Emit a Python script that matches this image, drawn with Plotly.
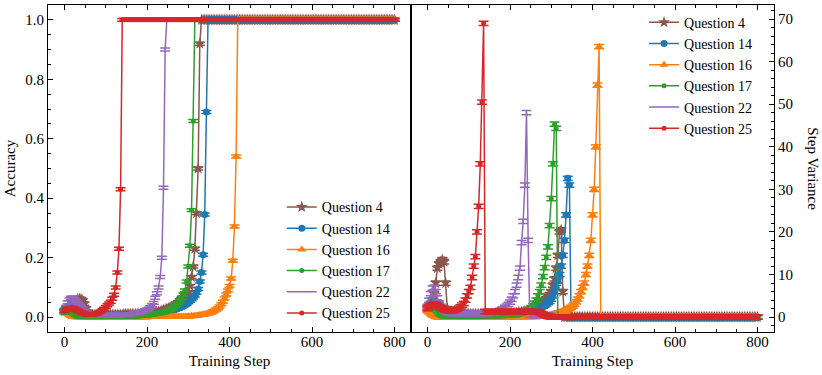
import plotly.graph_objects as go
from plotly.subplots import make_subplots

# Training steps (evaluated every 4 steps)
steps = list(range(0, 801, 4))

questions = ['Question 4', 'Question 14', 'Question 16', 'Question 17', 'Question 22', 'Question 25']
colors = ['#8c564b', '#1f77b4', '#ff7f0e', '#2ca02c', '#9467bd', '#d62728']
symbols = ['star', 'circle', 'triangle-up', 'circle', None, 'circle']
msizes = [9, 7, 8, 5, 0, 5]

# Accuracy per question (left panel)
acc_q4 = ([0.020, 0.022, 0.026, 0.030, 0.035, 0.040, 0.048, 0.056, 0.060, 0.062, 0.061, 0.057, 0.045, 0.030, 0.018, 0.010]
          + [0.007] * 10 + [0.008] * 10 + [0.010] * 10 + [0.012] * 5
          + [0.013, 0.014, 0.015, 0.016, 0.017, 0.018, 0.019, 0.020, 0.022, 0.024, 0.026, 0.028,
             0.030, 0.032, 0.035, 0.038, 0.042, 0.046, 0.050, 0.055, 0.060, 0.066, 0.073, 0.080]
          + [0.085, 0.105, 0.135, 0.17, 0.23, 0.35, 0.50, 0.92]
          + [1.0] * 118)
acc_q14 = ([0.025, 0.030, 0.034, 0.038, 0.040, 0.042, 0.042, 0.040, 0.036, 0.028, 0.018, 0.011, 0.007, 0.005, 0.004, 0.004]
           + [0.004] * 10 + [0.005] * 10 + [0.006] * 10 + [0.007] * 5
           + [0.008, 0.008, 0.009, 0.009, 0.010, 0.011, 0.012, 0.013, 0.014, 0.015, 0.016, 0.018,
              0.019, 0.021, 0.022, 0.024, 0.026, 0.028, 0.030, 0.032, 0.035, 0.038, 0.041, 0.045]
           + [0.050, 0.055, 0.060, 0.066, 0.073, 0.082, 0.095, 0.12, 0.15, 0.21, 0.345, 0.69]
           + [1.0] * 114)
acc_q16 = ([0.020, 0.016, 0.012, 0.008, 0.005, 0.002, 0.001, 0.0, 0.0, 0.0, 0.0, 0.0, 0.0, 0.0, 0.0, 0.0]
           + [0.0] * 35
           + [0.001] * 12 + [0.002] * 12
           + [0.003, 0.003, 0.004, 0.004, 0.005, 0.005, 0.006, 0.007, 0.008, 0.009,
              0.010, 0.011, 0.012, 0.014, 0.016, 0.019, 0.022, 0.026, 0.030, 0.036,
              0.043, 0.052, 0.063, 0.076, 0.090, 0.105, 0.13, 0.19, 0.305, 0.54]
           + [1.0] * 96)
acc_q17 = ([0.015, 0.016, 0.018, 0.020, 0.020, 0.017, 0.012, 0.007, 0.004, 0.002, 0.001, 0.001, 0.001, 0.001, 0.001, 0.001]
           + [0.001] * 10 + [0.002] * 10 + [0.004] * 10 + [0.006] * 5
           + [0.007, 0.008, 0.009, 0.010, 0.011, 0.012, 0.013, 0.014, 0.015, 0.016, 0.018, 0.020,
              0.022, 0.025, 0.028, 0.032, 0.037, 0.042, 0.048, 0.055, 0.065, 0.076, 0.090, 0.12]
           + [0.17, 0.24, 0.36, 0.66]
           + [1.0] * 122)
acc_q22 = ([0.020, 0.035, 0.050, 0.060, 0.065, 0.066, 0.060, 0.054, 0.048, 0.042, 0.036, 0.030, 0.022, 0.016, 0.011, 0.008]
           + [0.007] * 20
           + [0.008, 0.008, 0.009, 0.009, 0.010, 0.011, 0.012, 0.013, 0.014, 0.015, 0.016, 0.018, 0.020, 0.022, 0.025]
           + [0.028, 0.033, 0.040, 0.048, 0.065, 0.080, 0.10, 0.135, 0.20, 0.435, 0.90]
           + [1.0] * 139)
acc_q25 = ([0.020, 0.025, 0.029, 0.031, 0.031, 0.030, 0.028, 0.025, 0.022, 0.019, 0.016, 0.014, 0.012, 0.010, 0.009, 0.009]
           + [0.009, 0.009, 0.010, 0.011, 0.013, 0.016, 0.019, 0.023, 0.028, 0.034,
              0.040, 0.046, 0.052, 0.062, 0.075, 0.10, 0.15, 0.23, 0.43]
           + [1.0] * 166)

# Step variance per question (right panel)
var_q4 = ([2.0, 2.4, 3.0, 4.0, 5.5, 8.0, 11.5, 12.5, 13.0, 13.5, 13.0, 8.0, 2.0, 1.5, 1.2, 1.0]
          + [0.8] * 10 + [0.7] * 20 + [0.8] * 5
          + [0.9, 0.9, 1.0, 1.0, 1.1, 1.1, 1.2, 1.3, 1.4, 1.5, 1.6, 1.7,
             1.8, 2.0, 2.2, 2.4, 2.6, 2.9, 3.2, 3.5, 3.9, 4.3, 4.8, 5.3]
          + [6.0, 7.5, 9.0, 11.5, 14.5, 20.0, 20.5, 6.0]
          + [0.0] * 118)
var_q14 = ([2.3, 2.8, 3.2, 3.5, 3.6, 3.5, 3.2, 2.8, 2.2, 1.5, 1.0, 0.7, 0.5, 0.4, 0.4, 0.4]
           + [0.4] * 10 + [0.5] * 10 + [0.6] * 10 + [0.7] * 5
           + [0.8, 0.8, 0.9, 0.9, 1.0, 1.0, 1.1, 1.1, 1.2, 1.3, 1.4, 1.5,
              1.6, 1.7, 1.8, 1.9, 2.0, 2.2, 2.4, 2.6, 2.8, 3.1, 3.4, 3.7]
           + [4.2, 5.0, 6.0, 7.0, 8.5, 10.0, 12.0, 14.5, 18.0, 24.0, 32.6, 31.0]
           + [0.0] * 114)
var_q16 = ([1.5, 1.2, 0.9, 0.6, 0.4, 0.2, 0.1, 0.0, 0.0, 0.0, 0.0, 0.0, 0.0, 0.0, 0.0, 0.0]
           + [0.0] * 35
           + [0.1] * 8 + [0.2] * 8 + [0.3] * 8
           + [0.5, 0.6, 0.7, 0.8, 0.9, 1.0, 1.1, 1.2, 1.4, 1.6,
              1.8, 2.0, 2.3, 2.6, 3.0, 3.6, 4.2, 5.0, 6.0, 7.0,
              8.0, 10.0, 12.0, 14.5, 18.0, 24.0, 30.0, 40.0, 54.5, 63.5]
           + [0.0] * 96)
var_q17 = ([2.0, 2.2, 2.4, 2.5, 2.4, 2.0, 1.5, 1.0, 0.7, 0.5, 0.4, 0.3, 0.3, 0.3, 0.3, 0.3]
           + [0.3] * 20 + [0.4] * 10 + [0.5] * 5
           + [0.5, 0.6, 0.6, 0.7, 0.8, 0.9, 1.0, 1.1, 1.2, 1.4, 1.6, 1.8,
              2.2, 2.7, 3.3, 4.0, 5.0, 6.0, 7.5, 9.5, 11.6, 14.0, 16.5, 21.5]
           + [27.8, 36.0, 45.3, 44.3]
           + [0.0] * 122)
var_q22 = ([2.5, 4.0, 5.5, 6.8, 7.0, 6.0, 4.5, 3.3, 2.5, 2.0, 1.6, 1.3, 1.1, 1.0, 0.9, 0.8]
           + [0.8] * 20
           + [0.9, 0.9, 1.0, 1.0, 1.1, 1.2, 1.3, 1.4, 1.6, 1.8, 2.0, 2.3, 2.6, 3.0, 3.5]
           + [4.2, 5.0, 6.0, 7.5, 9.3, 11.5, 17.5, 22.5, 31.0, 48.0, 18.0]
           + [0.4] * 14 + [0.0] * 125)
var_q25 = ([2.0, 2.4, 2.7, 2.9, 3.0, 2.9, 2.7, 2.5, 2.2, 2.0, 1.8, 1.7, 1.6, 1.5, 1.5, 1.5]
           + [1.6, 1.7, 1.9, 2.1, 2.4, 2.8, 3.2, 4.0, 5.0, 6.0,
              7.0, 9.3, 12.0, 14.2, 20.0, 26.0, 36.0, 50.5, 69.0]
           + [1.3] * 33 + [1.1, 0.9, 0.7, 0.5, 0.35, 0.2, 0.1]
           + [0.0] * 126)

acc_err = 0.005
var_err = 0.5

acc_all = [acc_q4, acc_q14, acc_q16, acc_q17, acc_q22, acc_q25]
var_all = [var_q4, var_q14, var_q16, var_q17, var_q22, var_q25]

FONT = "Liberation Serif, 'Times New Roman', 'DejaVu Serif', serif"

fig = make_subplots(rows=1, cols=2, horizontal_spacing=0)

for i, name in enumerate(questions):
    mode = 'lines+markers' if symbols[i] else 'lines'
    marker = dict(symbol=symbols[i], size=msizes[i], color=colors[i]) if symbols[i] else None
    fig.add_trace(go.Scatter(
        x=steps[:len(acc_all[i])], y=acc_all[i], name=name, mode=mode,
        line=dict(color=colors[i], width=1.5), marker=marker,
        error_y=dict(type='constant', value=acc_err, width=5, thickness=1.5, color=colors[i]),
        legend='legend'), row=1, col=1)

for i, name in enumerate(questions):
    mode = 'lines+markers' if symbols[i] else 'lines'
    marker = dict(symbol=symbols[i], size=msizes[i], color=colors[i]) if symbols[i] else None
    fig.add_trace(go.Scatter(
        x=steps[:len(var_all[i])], y=var_all[i], name=name, mode=mode,
        line=dict(color=colors[i], width=1.5), marker=marker,
        error_y=dict(type='constant', value=var_err, width=5, thickness=1.5, color=colors[i]),
        legend='legend2'), row=1, col=2)

axis_style = dict(showline=True, linecolor='black', linewidth=1, showgrid=False, zeroline=False,
                  ticks='inside', ticklen=5, tickwidth=1, tickcolor='black',
                  tickfont=dict(family=FONT, size=15, color='black'))

for ax in ['xaxis', 'xaxis2']:
    fig.layout[ax].update(range=[-40, 840], tickvals=[0, 200, 400, 600, 800], mirror='allticks',
                          ticklabelstandoff=-4,
                          minor=dict(dtick=50, tick0=0, ticks='inside', ticklen=3, tickcolor='black'),
                          title=dict(text='Training Step', font=dict(family=FONT, size=15, color='black'), standoff=6),
                          **axis_style)

fig.update_yaxes(range=[-0.05, 1.05], tickvals=[0, 0.2, 0.4, 0.6, 0.8, 1.0], tickformat='.1f', mirror=True,
                 minor=dict(dtick=0.05, tick0=0, ticks='inside', ticklen=3, tickcolor='black'),
                 title=dict(text='Accuracy', font=dict(family=FONT, size=15, color='black'), standoff=6),
                 row=1, col=1, **axis_style)
fig.update_yaxes(range=[-3.5, 73.3], tickvals=[0, 10, 20, 30, 40, 50, 60, 70], side='right', mirror=True,
                 minor=dict(dtick=2, tick0=0, ticks='inside', ticklen=3, tickcolor='black'),
                 row=1, col=2, **axis_style)

legend_style = dict(bgcolor='rgba(0,0,0,0)', borderwidth=0, xanchor='left', yanchor='top',
                    font=dict(family=FONT, size=14, color='black'), tracegroupgap=0)

fig.update_layout(
    width=822, height=375,
    margin=dict(l=48, r=48, t=5, b=43),
    plot_bgcolor='white', paper_bgcolor='white',
    font=dict(family=FONT, size=15, color='black'),
    legend=dict(x=0.322, y=0.43, **legend_style),
    legend2=dict(x=0.821, y=0.995, **legend_style),
    annotations=[dict(text='Step Variance', xref='paper', yref='paper', x=1.054, y=0.5,
                      textangle=90, showarrow=False, xanchor='center', yanchor='middle',
                      font=dict(family=FONT, size=15, color='black'))],
)

# drop the default page margin so the figure sits at the window's corner
fig.write_html('out.html', config={'displayModeBar': False},
               post_script="document.body.style.margin='0px';")
